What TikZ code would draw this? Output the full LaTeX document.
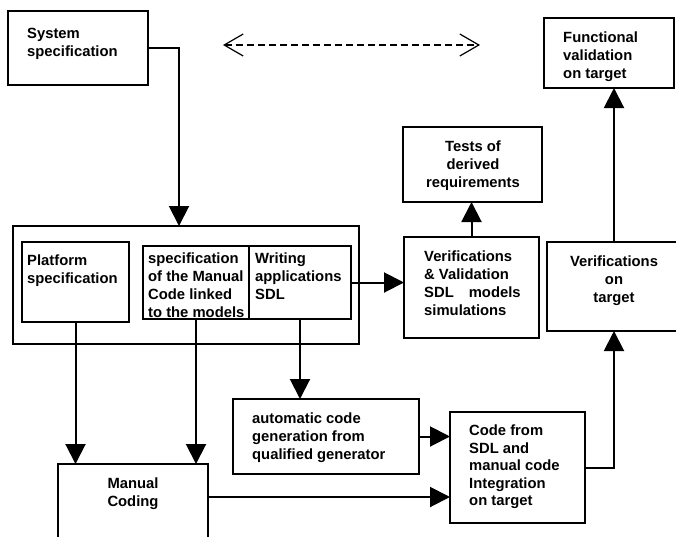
\documentclass[tikz,border=0pt]{standalone}
\usepackage{fontspec}
\setmainfont{Liberation Sans}
\usetikzlibrary{arrows.meta}
\begin{document}
\begin{tikzpicture}[x=1pt,y=-1pt,
  box/.style={draw=black, line width=1.5pt, inner sep=0pt, outer sep=0pt, anchor=north west},
  lbl/.style={inner sep=0pt, anchor=north west, align=left,
    font=\fontsize{14.8}{18}\selectfont\bfseries},
  clbl/.style={lbl, anchor=north, align=center},
  conn/.style={line width=2pt, -{Triangle[length=20pt,width=20pt]}},
  dashline/.style={line width=1.2pt, dash pattern=on 7pt off 4pt,
    {Straight Barb[length=19pt,width=22pt]}-{Straight Barb[length=19pt,width=22pt]}}
]
\useasboundingbox (0,0) rectangle (676,536);
\clip (0,0) rectangle (676,536);

% boxes
\node[box, minimum width=140pt, minimum height=74pt] (sys) at (8,11) {};
\node[box, minimum width=130pt, minimum height=70pt] (func) at (544,18) {};
\node[box, minimum width=139pt, minimum height=75pt] (tests) at (403,127) {};
\node[box, minimum width=346pt, minimum height=118pt] (outer) at (13,226) {};
\node[box, minimum width=107pt, minimum height=80pt] (plat) at (22,242) {};
\node[box, minimum width=106pt, minimum height=73pt] (spec) at (143,246) {};
\node[box, minimum width=102pt, minimum height=73pt] (writ) at (249,246) {};
\node[box, minimum width=135pt, minimum height=101pt] (vv) at (404,237) {};
\node[box, minimum width=134pt, minimum height=89pt] (vot) at (547,242) {};
\node[box, minimum width=150pt, minimum height=96pt] (man) at (58,464) {};
\node[box, minimum width=186pt, minimum height=75pt] (auto) at (233,399) {};
\node[box, minimum width=135pt, minimum height=111pt] (code) at (450,412) {};

% texts
\node[lbl] (sysT) at (27,27.5) {System\\specification};
\node[lbl] (funcT) at (563,31.5) {Functional\\validation\\on target};
\node[clbl] (testsT) at (473,140.5) {Tests of\\derived\\requirements};
\node[lbl] (platT) at (27,254.5) {Platform\\specification};
\node[lbl] (specT) at (148,252.5) {specification\\of the Manual\\Code linked\\to the models};
\node[lbl] (writT) at (255,252.5) {Writing\\applications\\SDL};
\node[lbl] (vvT) at (424,250.5) {Verifications\\\& Validation\\SDL\hspace{15pt}models\\simulations};
\node[clbl] (votT) at (614,255.5) {Verifications\\on\\target};
\node[clbl] (manT) at (133,477.5) {Manual\\Coding};
\node[lbl] (autoT) at (252,413) {automatic code\\generation from\\qualified generator};
\node[lbl, font=\fontsize{14.8}{17.5}\selectfont\bfseries] (codeT) at (469,425)
  {Code from\\SDL and\\manual code\\Integration\\on target};

% dashed two-way arrow
\coordinate (dl) at (223,45);
\coordinate (dr) at (480,45);
\draw[dashline] (dl) -- (dr);

% connectors
\coordinate (outin) at ([xshift=-7pt]outer.north);
\coordinate (manout) at ([yshift=-33pt]man.north east);
\draw[conn] (sys.east) -| (outin);
\draw[conn] (writ.east) -- (writ.east -| vv.west);
\draw[conn] (vv.north) -- (vv.north |- tests.south);
\draw[conn] (vot.north) -- (vot.north |- func.south);
\draw[conn] (plat.south) -- (plat.south |- man.north);
\draw[conn] (spec.south) -- (spec.south |- man.north);
\draw[conn] (writ.south) -- (writ.south |- auto.north);
\draw[conn] (auto.east) -- (auto.east -| code.west);
\draw[conn] (manout) -- (manout -| code.west);
\draw[conn] (code.east) -| (vot.south);
\end{tikzpicture}
\end{document}
